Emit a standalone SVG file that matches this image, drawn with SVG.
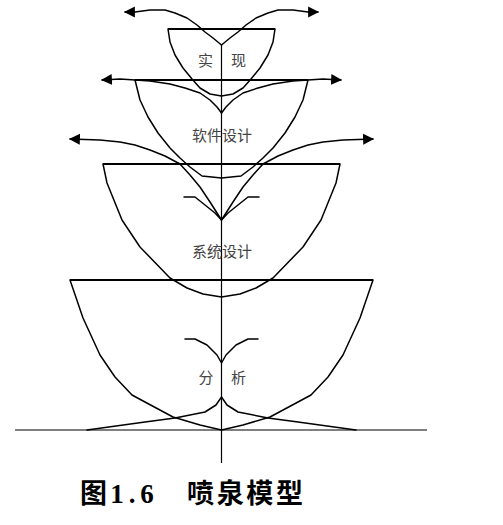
<svg xmlns="http://www.w3.org/2000/svg" width="503" height="525" viewBox="0 0 503 525">
<style>
.ln{fill:none;stroke:#000;stroke-width:1.5;stroke-linejoin:round;stroke-linecap:round}
.top{fill:none;stroke:#000;stroke-width:2}
.ax{fill:none;stroke:#000;stroke-width:1.2}
.lbl{font-family:"Noto Sans CJK SC",sans-serif;font-size:15px;fill:#444;text-anchor:middle}
.cap{font-family:"Liberation Serif","Noto Sans CJK SC",serif;font-size:27px;font-weight:bold;fill:#000}
.dig{font-family:"Liberation Serif",serif;font-size:27px;font-weight:bold;fill:#000;text-anchor:middle}
</style>
<defs>
<marker id="ah" viewBox="0 0 10 10" refX="9" refY="5" markerWidth="11" markerHeight="12" markerUnits="userSpaceOnUse" orient="auto">
<path d="M0,0 L10,5 L0,10 z" fill="#000"/>
</marker>
</defs>
<rect width="503" height="525" fill="#fff"/>
<g id="axes">
<line class="ax" x1="221.5" y1="45" x2="221.5" y2="463"/>
<line class="ax" x1="15" y1="430" x2="427" y2="430"/>
</g>
<g id="bowl1">
<line class="top" x1="168" y1="29" x2="275" y2="29"/>
<polyline class="ln" points="168,29 170,42 175,55 183,68 192,79 200,88 210,94 221.5,96 233,94 243,88 251,79 260,68 268,55 273,42 275,29"/>
<text class="lbl" x="205.5" y="65.5">实</text>
<text class="lbl" x="238.5" y="65.5">现</text>
</g>
<g id="bowl2">
<line class="top" x1="135" y1="80" x2="308" y2="80"/>
<polyline class="ln" points="135,80 140,100 148,117 158,133 170,148 180,158 190,167 202,176 221.5,178 241,176 253,167 263,158 273,148 285,133 295,117 303,100 308,80"/>
<text class="lbl" x="222" y="141">软件设计</text>
</g>
<g id="bowl3">
<line class="top" x1="103" y1="164" x2="340" y2="164"/>
<polyline class="ln" points="103,164 107,183 122,220 140,247 170,278 187,288 203,294 221.5,297 240,294 256,288 273,278 303,247 321,220 336,183 340,164"/>
<polyline class="ln" points="184,197 195,197 205,205 215,213 221.5,220 228,213 238,205 248,197 259,197"/>
<text class="lbl" x="222" y="257">系统设计</text>
</g>
<g id="bowl4">
<line class="top" x1="70" y1="280" x2="373" y2="280"/>
<polyline class="ln" points="70,280 83,318 100,355 115,377 132,395 145,402 173,417 200,425 221.5,430 243,425 270,417 298,402 311,395 328,377 343,355 360,318 373,280"/>
<polyline class="ln" points="185,339 195,339 207,345 217,355 221.5,363 226,355 236,345 248,339 258,339"/>
<text class="lbl" x="206" y="383">分</text>
<text class="lbl" x="238.5" y="383">析</text>
</g>
<g id="connectors">
<polyline class="ln" marker-end="url(#ah)" points="221.5,45 213,38 205,32 197,25 187,18 175,13 165,10 150,10 135,12 125,12"/>
<polyline class="ln" marker-end="url(#ah)" points="221.5,45 230,38 238,32 246,25 256,18 268,13 278,10 293,10 308,12 318,12"/>
<polyline class="ln" marker-end="url(#ah)" points="221.5,113 217,107 210,100 200,93 185,88 170,84 150,81 120,79 102,80"/>
<polyline class="ln" marker-end="url(#ah)" points="221.5,113 226,107 233,100 243,93 258,88 273,84 293,81 323,79 341,80"/>
<polyline class="ln" marker-end="url(#ah)" points="221.5,220 210,202 200,187 190,175 180,164 165,156 150,150 135,145 120,142 100,140 70,139"/>
<polyline class="ln" marker-end="url(#ah)" points="221.5,220 233,202 243,187 253,175 263,164 278,156 293,150 308,145 323,142 343,140 373,139"/>
<polyline class="ln" points="87,430 145,422 175,418 205,412 216,405 221.5,397 227,405 238,412 268,418 298,422 356,430"/>
</g>
<g id="caption">
<text class="cap" x="80" y="503">图</text>
<text class="dig" x="117 132 147" y="503">1.6</text>
<text class="cap" x="187" y="503" textLength="116" lengthAdjust="spacing">喷泉模型</text>
</g>
</svg>
